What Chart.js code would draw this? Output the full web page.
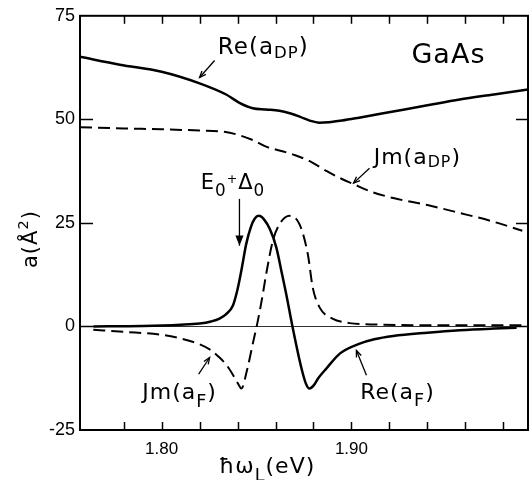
<!DOCTYPE html>
<html><head><meta charset="utf-8">
<script src="https://cdn.jsdelivr.net/npm/chart.js@4"></script>
<style>html,body{margin:0;padding:0;background:#fff}#c{display:block}</style>
</head><body>
<div style="width:530px;height:480px"><canvas id="c" width="530" height="480"></canvas></div>
<script>
// ---- data (x: photon energy in eV, y: a in Å^2) ----
const reDpX = [1.757, 1.778, 1.80, 1.82, 1.834, 1.841, 1.848, 1.855, 1.862, 1.868, 1.873, 1.878, 1.883, 1.888, 1.895, 1.904, 1.922, 1.94, 1.957, 1.975, 1.993];
const reDpY = [65.1, 63.2, 61.5, 58.7, 56.0, 54.0, 52.7, 52.4, 52.1, 51.4, 50.6, 49.7, 49.2, 49.3, 49.7, 50.4, 51.9, 53.4, 54.8, 56.0, 57.2];

const jmDpX = [1.757, 1.78, 1.80, 1.82, 1.833, 1.84, 1.848, 1.855, 1.862, 1.87, 1.878, 1.887, 1.895, 1.901, 1.91, 1.922, 1.94, 1.957, 1.974, 1.99];
const jmDpY = [48.1, 47.8, 47.6, 47.3, 47.0, 46.3, 45.0, 43.4, 42.5, 41.4, 39.9, 37.5, 35.6, 34.4, 32.6, 31.0, 29.3, 27.4, 25.4, 23.1];

const reFX = [1.764, 1.79, 1.81, 1.82, 1.826, 1.8305, 1.834, 1.8375, 1.840, 1.842, 1.8446, 1.847, 1.849, 1.8512, 1.854, 1.857, 1.8604, 1.8635, 1.8656, 1.869, 1.8735, 1.876, 1.8779, 1.880, 1.8825, 1.8867, 1.894, 1.904, 1.912, 1.922, 1.94, 1.957, 1.975, 1.987];
const reFY = [0, 0.1, 0.4, 0.7, 1.2, 1.9, 3.0, 5.0, 9.0, 13.5, 20.0, 24.0, 26.0, 26.7, 25.8, 23.5, 19.1, 12.5, 7.9, -0.2, -9.8, -13.8, -15.0, -14.3, -12.5, -10.2, -6.5, -4.2, -3.1, -2.3, -1.5, -0.9, -0.5, -0.3];

const jmFX = [1.764, 1.78, 1.80, 1.81, 1.82, 1.8255, 1.8305, 1.8345, 1.838, 1.8405, 1.842, 1.845, 1.848, 1.8507, 1.853, 1.8551, 1.8586, 1.8621, 1.8674, 1.8726, 1.877, 1.8796, 1.8832, 1.890, 1.899, 1.91, 1.95, 1.993];
const jmFY = [-0.8, -1.3, -2.0, -2.9, -4.3, -5.6, -7.5, -9.5, -12.0, -14.0, -15.0, -10.5, -4.2, 1.4, 7.0, 12.7, 20.7, 24.7, 26.7, 24.7, 17.5, 9.4, 4.6, 1.9, 0.8, 0.5, 0.3, 0.3];

const xTicks = [1.78, 1.80, 1.82, 1.84, 1.86, 1.88, 1.90, 1.92, 1.94, 1.96, 1.98];
const xLabeled = [1.80, 1.90];
const yTicks = [-25, 0, 25, 50, 75];

const TICKFONT = '"Liberation Sans", Arial, sans-serif';
const FONT = '"DejaVu Sans", sans-serif';
const pts = (xs, ys) => xs.map((v, i) => ({x: v, y: ys[i]}));

// p.sub: big lowered subscript, p.dsub: small slightly lowered, p.sup: superscript, p.mid: small raised sign
function rich(ctx, parts, x, y, size) {
  let cx = x;
  parts.forEach(p => {
    let s = size, dy = 0;
    if (p.sub) { s = size * 0.8; dy = size * 0.36; }
    else if (p.dsub) { s = size * 0.72; dy = size * 0.14; }
    else if (p.sup) { s = size * 0.7; dy = -size * 0.42; }
    else if (p.mid) { s = size * 0.6; dy = -size * 0.25; }
    ctx.font = s + 'px ' + FONT;
    ctx.fillText(p.t, cx, y + dy);
    cx += ctx.measureText(p.t).width;
  });
  return cx - x;
}
function arrow(ctx, x1, y1, x2, y2, head, filled) {
  ctx.beginPath(); ctx.moveTo(x1, y1); ctx.lineTo(x2, y2); ctx.stroke();
  const ang = Math.atan2(y2 - y1, x2 - x1), w = 0.38;
  const ax = x2 - head * Math.cos(ang - w), ay = y2 - head * Math.sin(ang - w);
  const bx = x2 - head * Math.cos(ang + w), by = y2 - head * Math.sin(ang + w);
  ctx.beginPath(); ctx.moveTo(ax, ay); ctx.lineTo(x2, y2); ctx.lineTo(bx, by);
  if (filled) { ctx.closePath(); ctx.fill(); } else ctx.stroke();
}

const labels = [
  {x: 1.8296, y: 65.7, size: 23, parts: [{t: 'Re(a'}, {t: 'DP', dsub: 1}, {t: ')'}]},
  {x: 1.9316, y: 63.5, size: 27, parts: [{t: 'GaAs'}]},
  {x: 1.9117, y: 39.2, size: 22, parts: [{t: 'Jm(a'}, {t: 'DP', dsub: 1}, {t: ')'}]},
  {x: 1.8206, y: 33.25, size: 21, parts: [{t: 'E'}, {t: '0', sub: 1}, {t: '+', mid: 1}, {t: 'Δ'}, {t: '0', sub: 1}]},
  {x: 1.7898, y: -17.6, size: 22, parts: [{t: 'Jm(a'}, {t: 'F', sub: 1}, {t: ')'}]},
  {x: 1.9046, y: -17.4, size: 22, parts: [{t: 'Re(a'}, {t: 'F', sub: 1}, {t: ')'}]}
];
const arrows = [
  {x1: 1.8279, y1: 64.2, x2: 1.8200, y2: 60.1, filled: false},
  {x1: 1.9095, y1: 38.2, x2: 1.9011, y2: 34.6, filled: false},
  {x1: 1.841, y1: 30.8, x2: 1.841, y2: 19.5, filled: true},
  {x1: 1.8195, y1: -11.5, x2: 1.8253, y2: -7.5, filled: false},
  {x1: 1.9079, y1: -11.8, x2: 1.9026, y2: -5.8, filled: false}
];

const deco = {
  id: 'deco',
  afterDraw(chart) {
    const {ctx, chartArea: a, scales: {x, y}} = chart;
    ctx.save();
    ctx.strokeStyle = '#000'; ctx.fillStyle = '#000'; ctx.lineCap = 'butt';
    const line = (x1, y1, x2, y2) => { ctx.beginPath(); ctx.moveTo(x1, y1); ctx.lineTo(x2, y2); ctx.stroke(); };
    ctx.lineWidth = 1.5;
    x.ticks.forEach(t => {
      const px = Math.round(x.getPixelForValue(t.value)) + 0.5;
      line(px, a.bottom, px, a.bottom - 8);
      line(px, a.top, px, a.top + 8);
    });
    y.ticks.forEach(t => {
      if (t.value === 75 || t.value === -25) return;
      const py = Math.round(y.getPixelForValue(t.value)) + 0.5;
      line(a.left, py, a.left + 13, py);
      line(a.right, py, a.right - 12, py);
    });
    ctx.lineWidth = 2;
    ctx.strokeRect(a.left, a.top, a.right - a.left, a.bottom - a.top);

    ctx.textBaseline = 'alphabetic'; ctx.textAlign = 'left';
    ctx.letterSpacing = '1px';
    labels.forEach(l => rich(ctx, l.parts, x.getPixelForValue(l.x), y.getPixelForValue(l.y), l.size));
    ctx.lineWidth = 1.3;
    arrows.forEach(r => arrow(ctx, x.getPixelForValue(r.x1), y.getPixelForValue(r.y1),
      x.getPixelForValue(r.x2), y.getPixelForValue(r.y2), r.filled ? 11 : 7, r.filled));

    // axis titles
    rich(ctx, [{t: 'ħω'}, {t: 'L', sub: 1}, {t: '(eV)'}], 219, 473, 22);
    ctx.translate(37, 268); ctx.rotate(-Math.PI / 2);
    rich(ctx, [{t: 'a(Å'}, {t: '2', sup: 1}, {t: ')'}], 0, 0, 21);
    ctx.restore();
  }
};

const ds = (label, xs, ys, dashed) => ({
  label, data: pts(xs, ys), borderColor: '#000', backgroundColor: '#000',
  borderWidth: dashed ? 2 : 2.5, borderDash: dashed ? [12, 6] : [],
  pointRadius: 0, cubicInterpolationMode: 'monotone', fill: false
});

new Chart(document.getElementById('c'), {
  type: 'line',
  data: {datasets: [
    ds('Re(aDP)', reDpX, reDpY, false),
    ds('Jm(aDP)', jmDpX, jmDpY, true),
    ds('Re(aF)', reFX, reFY, false),
    ds('Jm(aF)', jmFX, jmFY, true)
  ]},
  options: {
    responsive: false, animation: false, devicePixelRatio: 1,
    layout: {padding: {left: 0, right: 2, top: 14, bottom: 0}},
    plugins: {legend: {display: false}, tooltip: {enabled: false}},
    scales: {
      x: {
        type: 'linear', min: 1.757, max: 1.993,
        afterBuildTicks: s => { s.ticks = xTicks.map(v => ({value: v})); },
        afterFit: s => { s.height = 50; },
        grid: {display: false, drawTicks: false}, border: {display: false},
        ticks: {
          maxRotation: 0, autoSkip: false, padding: 9, color: '#000',
          font: {family: TICKFONT, size: 17},
          callback: v => xLabeled.some(l => Math.abs(l - v) < 1e-6) ? v.toFixed(2) : ''
        }
      },
      y: {
        type: 'linear', min: -25, max: 75,
        afterBuildTicks: s => { s.ticks = yTicks.map(v => ({value: v})); },
        afterFit: s => { s.width = 80; },
        grid: {drawTicks: false, lineWidth: 1, color: c => c.tick && c.tick.value === 0 ? '#333' : 'rgba(0,0,0,0)'},
        border: {display: false},
        ticks: {padding: 5, color: '#000', font: {family: TICKFONT, size: 18}, callback: v => String(v)}
      }
    }
  },
  plugins: [deco]
});
</script>
</body></html>
